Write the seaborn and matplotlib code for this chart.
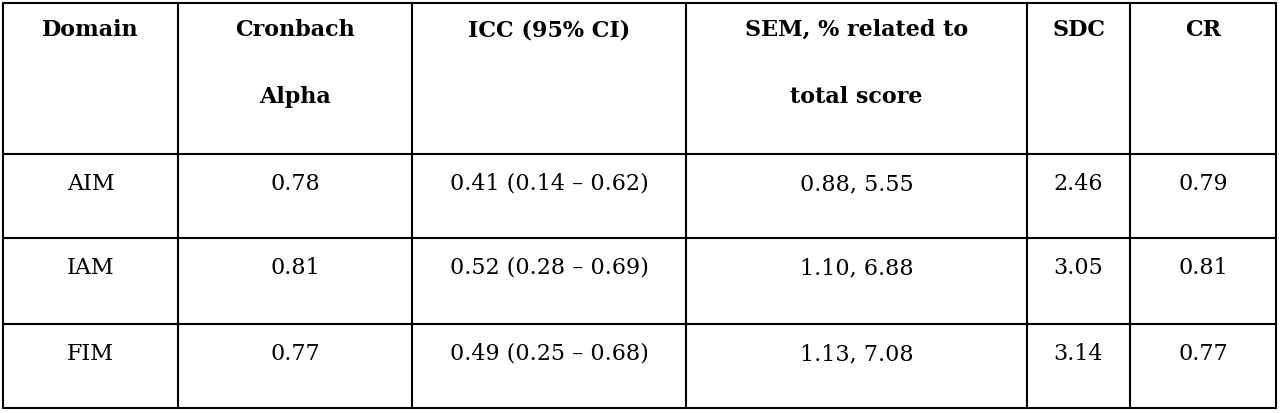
import matplotlib
matplotlib.use("Agg")
import matplotlib.pyplot as plt
import seaborn as sns

sns.set_theme(style="white")
plt.rcParams['font.family'] = ['DejaVu Serif']

headers = ["Domain", "Cronbach\nAlpha", "ICC (95% CI)", "SEM, % related to\ntotal score", "SDC", "CR"]
domains = ["AIM", "IAM", "FIM"]
alpha = ["0.78", "0.81", "0.77"]
icc = ["0.41 (0.14 – 0.62)", "0.52 (0.28 – 0.69)", "0.49 (0.25 – 0.68)"]
sem = ["0.88, 5.55", "1.10, 6.88", "1.13, 7.08"]
sdc = ["2.46", "3.05", "3.14"]
cr = ["0.79", "0.81", "0.77"]

W, H = 1280, 414
fig = plt.figure(figsize=(12.8, 4.14), dpi=100)
ax = fig.add_axes([0, 0, 1, 1])
ax.set_xlim(0, W); ax.set_ylim(H, 0); ax.axis("off")

xs = [3, 178, 412, 686, 1027, 1130, 1276]
ys = [4, 155, 239, 325, 409]
for x in xs:
    ax.plot([x, x], [ys[0], ys[-1]], color="black", lw=1.5)
for y in ys:
    ax.plot([xs[0], xs[-1]], [y, y], color="black", lw=1.5)

cols = [domains, alpha, icc, sem, sdc, cr]
for j, h in enumerate(headers):
    cx = (xs[j] + xs[j+1]) / 2
    for k, line in enumerate(h.split("\n")):
        ax.text(cx, 30 + 67 * k, line, ha="center", va="center", fontsize=16,
                fontweight="bold", color="black")
    for i, v in enumerate(cols[j]):
        ax.text(cx, ys[i+1] + 29, v, ha="center", va="center", fontsize=16, color="black")

fig.savefig("out.png", dpi=100, facecolor="white")
